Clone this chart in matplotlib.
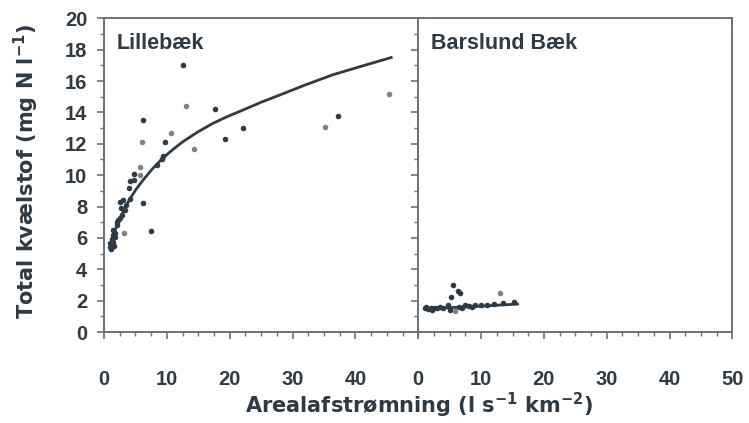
import matplotlib
matplotlib.use("Agg")
import matplotlib.pyplot as plt
from matplotlib.ticker import MultipleLocator

plt.rcParams['font.family'] = ['Liberation Sans', 'DejaVu Sans']
plt.rcParams['mathtext.fontset'] = 'custom'
plt.rcParams['mathtext.rm'] = 'DejaVu Sans:bold'
plt.rcParams['mathtext.it'] = 'DejaVu Sans:bold'
plt.rcParams['mathtext.bf'] = 'DejaVu Sans:bold'

# ---- data ----
lille_x = [12.5, 17.6, 6.2, 9.7, 19.3, 22.1, 37.3, 6.2, 7.4, 9.45, 8.4, 4.7, 4.1, 4.7,
           3.9, 4.1, 3.0, 2.55, 3.3, 2.8, 2.3, 2.0, 1.5, 1.75, 1.5, 0.96, 1.2, 1.3, 1.8,
           2.5, 3.5, 9.2, 1.1, 1.6, 2.1, 2.7, 1.4, 1.0]
lille_y = [17.0, 14.2, 13.5, 12.1, 12.3, 13.0, 13.8, 8.2, 6.45, 11.2, 10.65, 10.05, 9.6, 9.7,
           9.16, 8.5, 8.4, 8.3, 7.78, 7.46, 7.14, 6.8, 6.5, 6.08, 5.76, 5.44, 5.6, 5.9, 6.3,
           7.3, 8.1, 11.0, 5.3, 5.5, 7.0, 7.9, 6.2, 5.7]
lille_grey_x = [13.0, 10.6, 6.1, 14.3, 35.1, 45.4, 5.8, 5.8, 3.2]
lille_grey_y = [14.4, 12.7, 12.1, 11.7, 13.1, 15.2, 10.5, 10.0, 6.3]
lille_fit_x = [0.95, 1.6, 2.54, 3.3, 4.13, 5.1, 6.24, 7.8, 9.4, 11.0, 12.6, 14.9, 17.3,
               19.7, 22.1, 25.0, 27.9, 32.0, 36.4, 41.0, 45.7]
lille_fit_y = [5.44, 6.35, 7.24, 7.9, 8.5, 9.1, 9.7, 10.45, 11.1, 11.65, 12.15, 12.75, 13.3,
               13.75, 14.15, 14.65, 15.1, 15.75, 16.4, 16.95, 17.5]

bars_x = [1.0, 1.5, 2.0, 2.5, 3.0, 3.5, 4.0, 4.7, 5.2, 5.5, 6.3, 6.6, 6.5, 7.0, 7.5, 8.0,
          9.0, 10.0, 11.0, 12.0, 13.5, 15.3, 1.3, 2.2, 5.0, 8.5]
bars_y = [1.5, 1.45, 1.5, 1.55, 1.5, 1.6, 1.55, 1.7, 2.25, 3.0, 2.6, 2.5, 1.6, 1.5, 1.75, 1.65,
          1.7, 1.75, 1.7, 1.8, 1.85, 1.9, 1.6, 1.4, 1.4, 1.6]
bars_grey_x = [13.0, 5.8]
bars_grey_y = [2.47, 1.35]
bars_fit_x = [1.2, 5.0, 10.0, 15.8]
bars_fit_y = [1.45, 1.55, 1.65, 1.78]

xticks_left = [0, 10, 20, 30, 40]
xticks_right = [0, 10, 20, 30, 40, 50]
yticks = [0, 2, 4, 6, 8, 10, 12, 14, 16, 18, 20]

dark = '#2e3a44'
grey = '#7d8288'
spine = '#6a7177'

fig = plt.figure(figsize=(7.49, 4.23), dpi=100)
axL = fig.add_axes([0.1389, 0.2151, 0.4195, 0.7416])
axR = fig.add_axes([0.5584, 0.2151, 0.4195, 0.7416], sharey=axL)

tick_fp = dict(family='Liberation Sans', weight='bold', size=14.5)

for ax in (axL, axR):
    ax.set_xlim(0, 50)
    ax.set_ylim(0, 20)
    for s in ax.spines.values():
        s.set_color(spine)
        s.set_linewidth(1.4)
    ax.xaxis.set_minor_locator(MultipleLocator(2.5))
    ax.yaxis.set_minor_locator(MultipleLocator(1))
    ax.tick_params(which='major', direction='out', length=5, width=1.2, color=spine,
                   labelcolor=dark)
    ax.tick_params(which='minor', direction='out', length=3, width=1.0, color=spine)
    ax.tick_params(axis='x', pad=22)

axL.set_xticks(xticks_left)
axR.set_xticks(xticks_right)
axL.set_yticks(yticks)
axL.set_yticklabels([str(v) for v in yticks], **tick_fp)
axL.set_xticklabels([str(v) for v in xticks_left], **tick_fp)
axR.set_xticklabels([str(v) for v in xticks_right], **tick_fp)
axL.tick_params(axis='y', pad=7)
axR.tick_params(axis='y', labelleft=False)
axL.spines['right'].set_visible(False)

# Lillebæk
axL.plot(lille_fit_x, lille_fit_y, color=dark, lw=2.0, zorder=3)
axL.scatter(lille_x, lille_y, s=16, color=dark, zorder=4, linewidths=0)
axL.scatter(lille_grey_x, lille_grey_y, s=16, color=grey, zorder=4, linewidths=0)
axL.text(0.04, 0.92, 'Lillebæk', transform=axL.transAxes, fontsize=15.5,
         fontweight='bold', color=dark, va='center', ha='left')

# Barslund Bæk
axR.plot(bars_fit_x, bars_fit_y, color=dark, lw=2.0, zorder=3)
axR.scatter(bars_x, bars_y, s=16, color=dark, zorder=4, linewidths=0)
axR.scatter(bars_grey_x, bars_grey_y, s=16, color=grey, zorder=4, linewidths=0)
axR.text(0.04, 0.92, 'Barslund Bæk', transform=axR.transAxes, fontsize=15.5,
         fontweight='bold', color=dark, va='center', ha='left')

fig.text(0.035, 0.595, 'Total kvælstof (mg N l$^{-1}$)', rotation=90, fontsize=15,
         fontweight='bold', color=dark, ha='center', va='center', family='DejaVu Sans')
fig.text(0.56, 0.042, 'Arealafstrømning (l s$^{-1}$ km$^{-2}$)', fontsize=15,
         fontweight='bold', color=dark, ha='center', va='center', family='DejaVu Sans')

fig.savefig('out.png', dpi=100)
